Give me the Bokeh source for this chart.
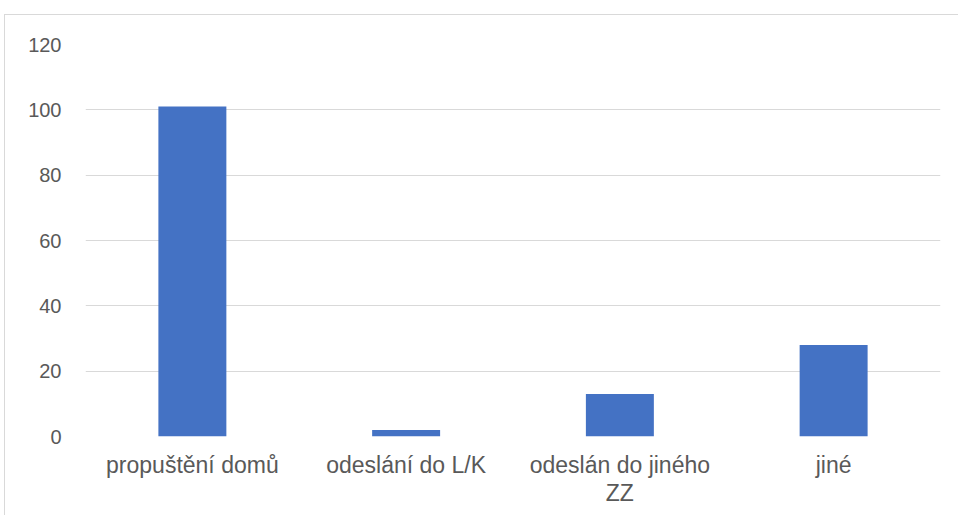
from bokeh.plotting import figure
from bokeh.embed import file_html
from bokeh.resources import INLINE
from bokeh.models import FixedTicker, Range1d

categories = ["propuštění domů", "odeslání do L/K", "odeslán do jiného\nZZ", "jiné"]
values = [101, 2, 13, 28]
y_ticks = [0, 20, 40, 60, 80, 100, 120]

W, H = 954, 501
p = figure(x_range=categories, y_range=Range1d(0, 120), width=W, height=H,
           output_backend="svg", toolbar_location=None,
           min_border_left=80, min_border_right=19, min_border_top=29, min_border_bottom=80)
p.styles = {"margin-left": "4px", "margin-top": "14px",
            "border-top": "1px solid #d9d9d9", "border-left": "1px solid #d9d9d9"}
p.x_range.range_padding = 0
p.vbar(x=categories, top=values, width=0.318, color="#4472c4", line_color=None)

FONT = "Liberation Sans"
p.yaxis.ticker = FixedTicker(ticks=y_ticks)
for ax in (p.xaxis, p.yaxis):
    ax.axis_line_color = None
    ax.major_tick_line_color = None
    ax.minor_tick_line_color = None
    ax.major_label_text_color = "#595959"
    ax.major_label_text_font = FONT
p.yaxis.major_label_text_font_size = "20px"
p.yaxis.major_label_standoff = 18
p.xaxis.major_label_text_font_size = "23px"
p.xaxis.major_label_standoff = 9
p.xaxis.major_label_text_line_height = 1.1

p.xgrid.grid_line_color = None
p.ygrid.grid_line_color = "#d9d9d9"
p.ygrid.grid_line_width = 1
p.outline_line_color = None
p.background_fill_color = "white"
p.border_fill_color = "white"

open("out.html", "w").write(file_html(p, INLINE))
